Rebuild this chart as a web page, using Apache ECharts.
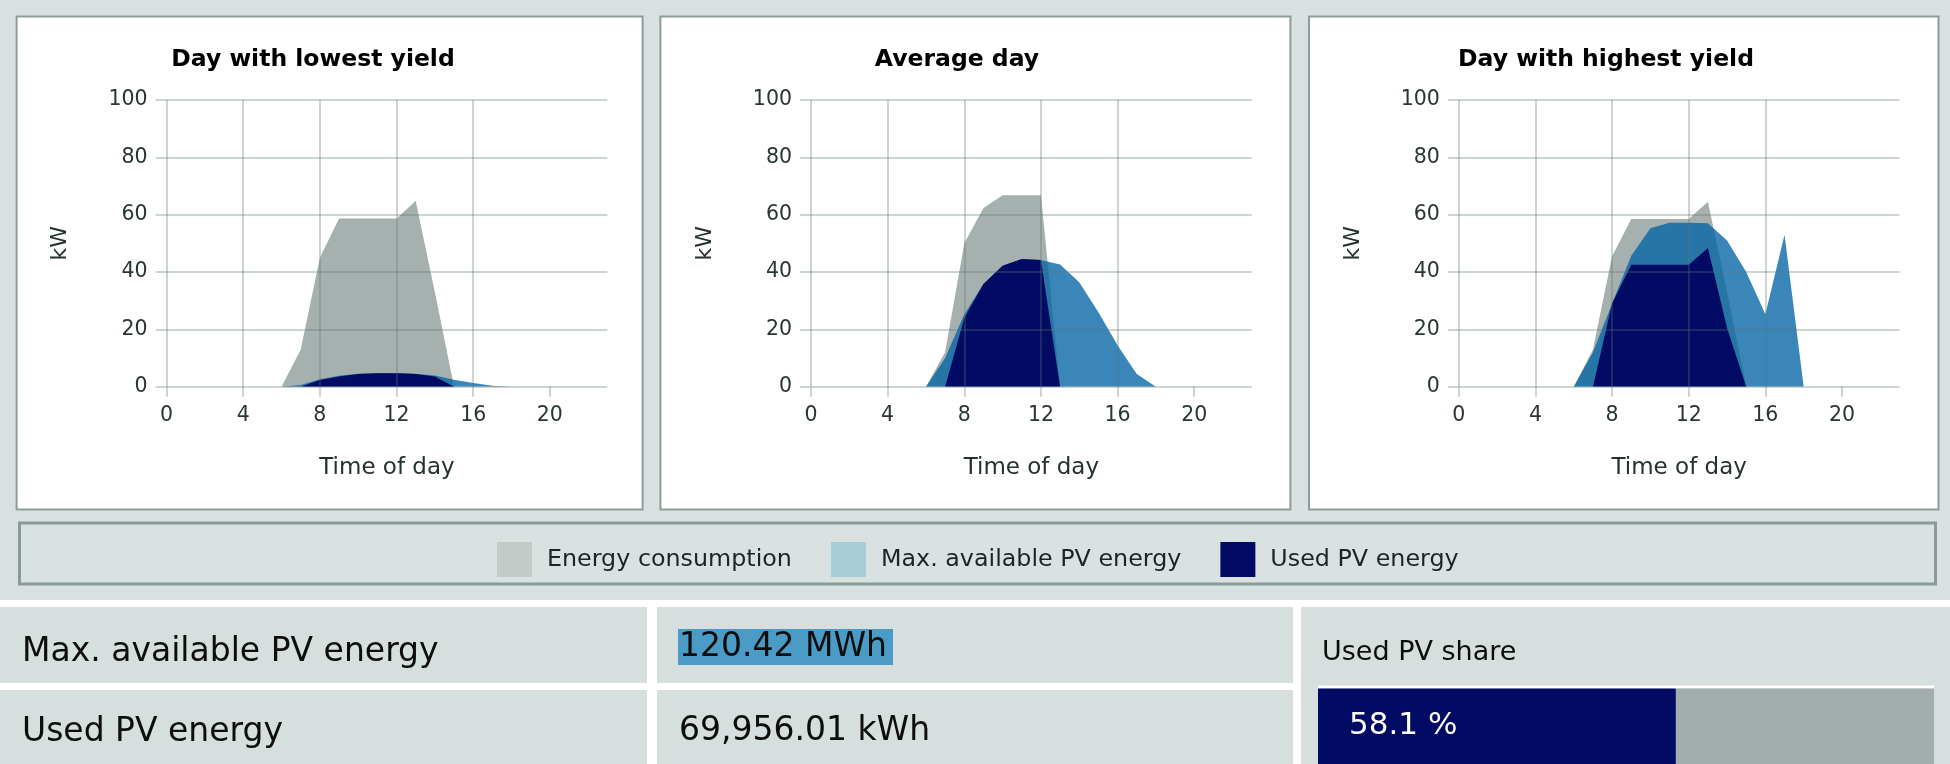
<!DOCTYPE html>
<html>
<head>
<meta charset="utf-8">
<script src="https://cdn.jsdelivr.net/npm/echarts@6/dist/echarts.min.js"></script>
<style>
html,body{margin:0;padding:0;background:#d9e1e0;}
#c{width:1950px;height:764px;}
</style>
</head>
<body>
<div id="c"></div>
<script>
// ---------- DATA ----------
const hours = [0,1,2,3,4,5,6,7,8,9,10,11,12,13,14,15,16,17,18,19,20,21,22,23];
const xTicks = [0,4,8,12,16,20];
const panelTitles = ['Day with lowest yield', 'Average day', 'Day with highest yield'];
const seriesNames = ['Energy consumption', 'Max. available PV energy', 'Used PV energy'];
const xAxisName = 'Time of day';
const yAxisName = 'kW';

const consumptionLow = [0,0,0,0,0,0,0,13,45,58.7,58.7,58.7,58.7,64.8,33,0,0,0,0,0,0,0,0,0];
const pvMaxLow       = [0,0,0,0,0,0,0,0.6,2.6,3.8,4.5,4.8,4.8,4.5,3.9,2.4,1.3,0.3,0,0,0,0,0,0];
const pvUsedLow      = [0,0,0,0,0,0,0,0,2.3,3.6,4.4,4.7,4.7,4.4,3.6,0,0,0,0,0,0,0,0,0];

const consumptionAvg = [0,0,0,0,0,0,0,12,50,62.3,66.8,66.8,66.8,0,0,0,0,0,0,0,0,0,0,0];
const pvMaxAvg       = [0,0,0,0,0,0,0,10,25.3,35.8,42.2,44.5,44.2,42.6,36.4,26,14.5,4.4,0,0,0,0,0,0];
const pvUsedAvg      = [0,0,0,0,0,0,0,0,24,35.8,42.2,44.5,44.2,0,0,0,0,0,0,0,0,0,0,0];

const consumptionHigh = [0,0,0,0,0,0,0,13,45.5,58.5,58.5,58.5,58.5,64.5,33,0,0,0,0,0,0,0,0,0];
const pvMaxHigh       = [0,0,0,0,0,0,0,12,29,45.7,55.3,57.2,57.2,57,51,40,25.3,53,0,0,0,0,0,0];
const pvUsedHigh      = [0,0,0,0,0,0,0,0,29,42.5,42.5,42.5,42.5,48.4,20.5,0,0,0,0,0,0,0,0,0];

const tableLabels = ['Max. available PV energy', 'Used PV energy'];
const tableValues = ['120.42 MWh', '69,956.01 kWh'];
const shareLabel = 'Used PV share';
const shareCategories = ['share'];
const shareUsed = [58.1];
const shareRest = [41.9];

// ---------- STYLE / LAYOUT ----------
const FONT = '"DejaVu Sans", Verdana, sans-serif';
const C_GREY = '#a6b0ae';
const C_BLUE = 'rgba(3,100,164,0.78)';
const C_NAVY = '#020b63';
const GRID_LINE = 'rgba(90,115,112,0.30)';
const PANEL_STROKE = '#8d9c9a';
const seriesColors = [C_GREY, C_BLUE, C_NAVY];
const legendColors = ['#c3cbc9', '#a9ccd9', '#020b63'];

const gridLefts = [166.6, 811, 1458.8];
const gridTop = 100, gridW = 440.7, gridH = 286.7;
const panels = [[16.6, 626], [660.4, 630], [1309, 629.5]];
const titleCenters = [313, 957, 1606];

const dayData = [
  [consumptionLow, pvMaxLow, pvUsedLow],
  [consumptionAvg, pvMaxAvg, pvUsedAvg],
  [consumptionHigh, pvMaxHigh, pvUsedHigh]
];

const grids = [], xAxes = [], yAxes = [], series = [];
gridLefts.forEach((l, gi) => {
  grids.push({left: l, top: gridTop, width: gridW, height: gridH, containLabel: false});
  xAxes.push({
    type: 'value', gridIndex: gi, min: 0, max: 23, interval: 4, z: 5,
    name: xAxisName, nameLocation: 'middle', nameGap: 70,
    nameTextStyle: {fontFamily: FONT, fontSize: 23, color: '#263131'},
    axisLine: {show: false},
    axisTick: {show: true, length: 10, customValues: xTicks, lineStyle: {color: GRID_LINE, width: 2}},
    axisLabel: {customValues: xTicks, margin: 18, fontFamily: FONT, fontSize: 20.5, color: '#2a3535'},
    splitLine: {show: true, showMaxLine: false, lineStyle: {color: GRID_LINE, width: 2}}
  });
  yAxes.push({
    type: 'value', gridIndex: gi, min: 0, max: 100, interval: 20, z: 5,
    name: yAxisName, nameLocation: 'middle', nameGap: 95,
    nameTextStyle: {fontFamily: FONT, fontSize: 22, color: '#263131'},
    axisLine: {show: false},
    axisTick: {show: true, length: 11, lineStyle: {color: GRID_LINE, width: 2}},
    axisLabel: {margin: 19, fontFamily: FONT, fontSize: 20.5, color: '#2a3535'},
    splitLine: {show: true, lineStyle: {color: GRID_LINE, width: 2}}
  });
  dayData[gi].forEach((vals, si) => {
    series.push({
      type: 'line', name: seriesNames[si], xAxisIndex: gi, yAxisIndex: gi,
      data: hours.map((h, i) => [h, vals[i]]),
      symbol: 'none', showSymbol: false, silent: true,
      lineStyle: {width: 0, opacity: 0},
      itemStyle: {color: seriesColors[si]},
      areaStyle: {color: seriesColors[si], opacity: 1},
      z: 2 + si, emphasis: {disabled: true}
    });
  });
});

// share bar (4th grid)
grids.push({left: 1318, top: 688.5, width: 616, height: 75.5});
xAxes.push({type: 'value', gridIndex: 3, min: 0, max: 100, show: false});
yAxes.push({type: 'category', gridIndex: 3, data: shareCategories, show: false});
series.push({
  type: 'bar', name: 'share-used', xAxisIndex: 3, yAxisIndex: 3, stack: 'share',
  data: shareUsed, barWidth: '100%', silent: true,
  itemStyle: {color: C_NAVY},
  label: {show: true, position: 'insideLeft', distance: 31, formatter: p => p.value + ' %',
          fontFamily: FONT, fontSize: 31, color: '#ffffff'}
});
series.push({
  type: 'bar', name: 'share-rest', xAxisIndex: 3, yAxisIndex: 3, stack: 'share',
  data: shareRest, barWidth: '100%', silent: true,
  itemStyle: {color: '#a3adab'}
});

// ---------- GRAPHIC (panels, table, titles) ----------
const graphics = [];
panels.forEach(([x, w]) => graphics.push({
  type: 'rect', z: 0, shape: {x: x, y: 16.5, width: w, height: 493},
  style: {fill: '#ffffff', stroke: PANEL_STROKE, lineWidth: 2}
}));
graphics.push({type: 'rect', z: 0, shape: {x: 19.5, y: 523, width: 1916, height: 61},
  style: {fill: '#dae2e1', stroke: '#8a9a98', lineWidth: 3}});
panelTitles.forEach((t, i) => graphics.push({
  type: 'text', z: 10, x: titleCenters[i], y: 60,
  style: {text: t, align: 'center', verticalAlign: 'middle', fontFamily: FONT,
          fontSize: 23.5, fontWeight: 'bold', fill: '#000000'}
}));
// table background
graphics.push({type: 'rect', z: 0, shape: {x: 0, y: 600, width: 1950, height: 164}, style: {fill: '#ffffff'}});
[[0,607,647,76],[657,607,636,76],[0,690,647,74],[657,690,636,74],[1301,607,649,157]].forEach(r =>
  graphics.push({type: 'rect', z: 0, shape: {x: r[0], y: r[1], width: r[2], height: r[3]}, style: {fill: '#d6dfde'}}));
graphics.push({type: 'rect', z: 0, shape: {x: 1318, y: 685.5, width: 616, height: 3}, style: {fill: '#ffffff'}});
graphics.push({type: 'rect', z: 1, shape: {x: 678, y: 629, width: 215, height: 36}, style: {fill: '#4a9cc6'}});
graphics.push({type: 'text', z: 10, x: 22, y: 652,
  style: {text: tableLabels[0], align: 'left', verticalAlign: 'middle', fontFamily: FONT, fontSize: 33, fill: '#0d0d0d'}});
graphics.push({type: 'text', z: 10, x: 22, y: 732,
  style: {text: tableLabels[1], align: 'left', verticalAlign: 'middle', fontFamily: FONT, fontSize: 33, fill: '#0d0d0d'}});
graphics.push({type: 'text', z: 10, x: 679, y: 647,
  style: {text: tableValues[0], align: 'left', verticalAlign: 'middle', fontFamily: FONT, fontSize: 33, fill: '#0d0d0d'}});
graphics.push({type: 'text', z: 10, x: 679, y: 731,
  style: {text: tableValues[1], align: 'left', verticalAlign: 'middle', fontFamily: FONT, fontSize: 33, fill: '#0d0d0d'}});
graphics.push({type: 'text', z: 10, x: 1322, y: 653,
  style: {text: shareLabel, align: 'left', verticalAlign: 'middle', fontFamily: FONT, fontSize: 27, fill: '#0d0d0d'}});

const chart = echarts.init(document.getElementById('c'), null, {renderer: 'canvas'});
chart.setOption({
  animation: false,
  backgroundColor: '#d9e1e0',
  grid: grids,
  xAxis: xAxes,
  yAxis: yAxes,
  legend: {
    left: 492, top: 537, orient: 'horizontal',
    itemWidth: 35, itemHeight: 35, itemGap: 39, icon: 'rect', selectedMode: false,
    textStyle: {fontFamily: FONT, fontSize: 23.8, color: '#1e2424', padding: [0, 0, 0, 10]},
    data: seriesNames.map((n, i) => ({name: n, itemStyle: {color: legendColors[i]}}))
  },
  graphic: {elements: graphics},
  series: series
});
</script>
</body>
</html>
